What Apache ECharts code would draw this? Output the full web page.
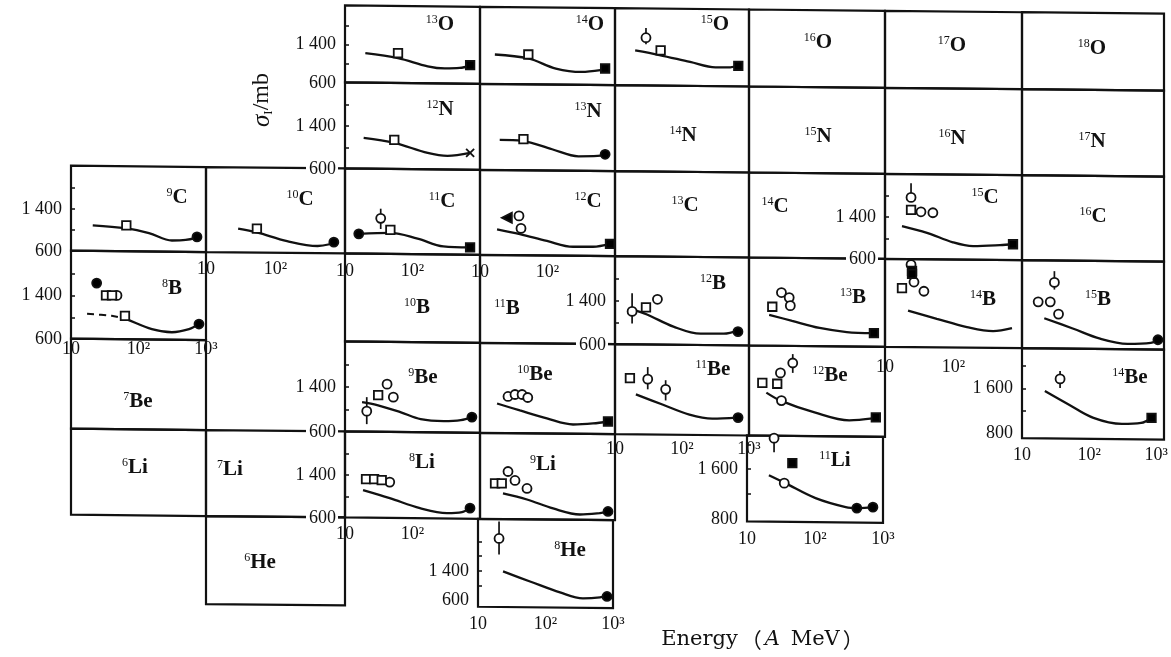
<!DOCTYPE html>
<html><head><meta charset="utf-8">
<script src="https://cdn.jsdelivr.net/npm/echarts@6.0.0/dist/echarts.min.js"></script>
<style>html,body{margin:0;padding:0;background:#fff}#c{width:1171px;height:657px}</style>
</head><body><div id="c"></div>
<script>
// ---------- data : energy (A MeV), sigma_I (mb) ----------
const xTickText = {1: '10', 2: '10²', 3: '10³'};

const o13Curve = [[20,1223],[61,1120],[168,950],[300,905],[500,915],[714,965]];
const o13OpenSq = [[61,1223]];
const o13FillSq = [[714,974]];

const o14Curve = [[16.6,1223],[52,1140],[133,930],[319,860],[625,900],[714,932]];
const o14OpenSq = [[52,1223]];
const o14FillSq = [[714,932]];

const o15Curve = [[20,1336],[46,1240],[132,1096],[316,984],[525,984],[692,1032]];
const o15OpenCircle = [[29,1600]];
const o15Err = [[29,1464,1800]];
const o15OpenSq = [[48,1336]];
const o15FillSq = [[692,1016]];

const n12Curve = [[18.9,1183],[53.7,1089],[168,901],[330,845],[714,901]];
const n12OpenSq = [[53.7,1146]];
const n12Cross = [[714,901]];

const n13Curve = [[19.6,1170],[42.5,1150],[117,995],[288,864],[550,870],[714,901]];
const n13OpenSq = [[44,1183]];
const n13FillCircle = [[714,901]];

const c9Curve = [[21,1091],[65,1036],[143,945],[313,805],[500,815],[711,855]];
const c9OpenSq = [[66,1090]];
const c9FillCircle = [[735,873]];

const c10Curve = [[29,1055],[54,982],[147,818],[404,727],[600,760],[691,800]];
const c10OpenSq = [[54,1055]];
const c10FillCircle = [[691,800]];

const c11Curve = [[16,982],[47,1000],[119,891],[286,745],[713,727]];
const c11FillCircle = [[16,982]];
const c11OpenCircle = [[33.8,1273]];
const c11Err = [[33.8,1073,1455]];
const c11OpenSq = [[47,1055]];
const c11FillSq = [[713,727]];

const c12Curve = [[17.9,1091],[39,1000],[98,873],[239,764],[472,764],[843,818]];
const c12FillTri = [[25,1309]];
const c12OpenCircle = [[37.8,1345],[40.5,1109]];
const c12FillSq = [[843,818]];

const c15Curve = [[17.7,1229],[41,1103],[98,924],[193,852],[477,870],[739,888]];
const c15OpenCircle = [[24,1769],[33.5,1499],[50,1481]];
const c15Err = [[24,1769,2038]];
const c15OpenSq = [[24,1535]];
const c15FillSq = [[739,888]];

const b8CurveDashed = [[17.3,1065],[40,1030],[57,991]];
const b8Curve = [[57,991],[65,972],[158,786],[313,730],[560,786],[787,879]];
const b8FillCircle = [[24,1623],[787,879]];
const b8OpenSq = [[33,1400],[40.5,1400],[63,1028]];
const b8OpenCircle = [[48,1400]];

const b12Curve = [[18,1244],[30,1152],[74.5,931],[190,802],[421,802],[684,857]];
const b12OpenCircle = [[18,1207],[43,1428]];
const b12Err = [[18,986,1538]];
const b12OpenSq = [[29,1280]];
const b12FillCircle = [[684,839]];

const b13Curve = [[19.8,1170],[43,1060],[109,931],[274,857],[664,839]];
const b13OpenSq = [[22,1317]];
const b13OpenCircle = [[30,1575],[39,1483],[40.5,1336]];
const b13FillSq = [[687,839]];

const b14Curve = [[21.7,1270],[57,1121],[157,972],[378,898],[714,953]];
const b14OpenCircle = [[24,2107],[26.5,1791],[37,1623]];
const b14FillSq = [[24.8,1995],[24.8,1940]];
const b14OpenSq = [[17.7,1679]];

const b15Curve = [[20.6,1158],[51.8,972],[126,786],[306,693],[652,712],[906,786]];
const b15OpenCircle = [[28.6,1809],[16.9,1456],[25,1456],[32.7,1233]];
const b15Err = [[28.6,1679,2014]];
const b15FillCircle = [[821,767]];

const be9Curve = [[17.9,1133],[30,1080],[66,956],[132,831],[290,796],[520,813],[759,867]];
const be9OpenCircle = [[21,973],[42,1453],[52,1222]];
const be9Err = [[21,742,1222]];
const be9OpenSq = [[31,1258]];
const be9FillCircle = [[759,867]];

const be10Curve = [[17.9,1133],[39,1009],[98,867],[239,760],[472,778],[787,813]];
const be10OpenCircle = [[26,1258],[33,1293],[42,1293],[51,1240]];
const be10FillSq = [[787,813]];

const be11Curve = [[20.5,1319],[51,1139],[129,960],[283,888],[664,906]];
const be11OpenSq = [[16.7,1607]];
const be11OpenCircle = [[30.8,1589],[57,1409]];
const be11Err = [[30.8,1409,1804],[57,1211,1571]];
const be11FillCircle = [[687,906]];

const be12Curve = [[18,1374],[29,1233],[92,1022],[298,881],[660,916]];
const be12OpenSq = [[15.7,1549],[26,1532]];
const be12OpenCircle = [[29,1725],[30,1233],[44,1901]];
const be12Err = [[44,1725,2059]];
const be12FillSq = [[733,934]];

const be14Curve = [[21.9,1553],[48,1322],[116,1073],[308,967],[593,984],[849,1073]];
const be14OpenCircle = [[36.9,1767]];
const be14Err = [[36.9,1607,1909]];
const be14FillSq = [[849,1073]];

const li8Curve = [[18.5,1121],[46,972],[129,786],[324,693],[541,712],[711,786]];
const li8OpenSq = [[20.5,1326],[27,1326],[35,1307]];
const li8OpenCircle = [[46,1270]];
const li8FillCircle = [[711,786]];

const li9Curve = [[21.9,1084],[49.7,972],[121,805],[303,693],[600,720],[843,749]];
const li9OpenSq = [[16.7,1270],[21,1270]];
const li9OpenCircle = [[26,1493],[33,1326],[49.7,1177]];
const li9FillCircle = [[787,749]];

const li11Curve = [[21,1504],[36.5,1376],[102,1135],[283,991],[427,975],[711,991]];
const li11OpenCircle = [[25,2098],[35.3,1376]];
const li11Err = [[25,1873,2098]];
const li11FillSq = [[46.4,1697]];
const li11FillCircle = [[412,975],[711,991]];

const he8Curve = [[23.5,1382],[59,1109],[164,809],[359,645],[642,673],[843,727]];
const he8OpenCircle = [[20.5,2282]];
const he8Err = [[20.5,1845,2745]];
const he8FillCircle = [[815,700]];

// nuclide names: [mass, element]
const nuclideNames = [
 ['13','O'],['14','O'],['15','O'],['16','O'],['17','O'],['18','O'],
 ['12','N'],['13','N'],['14','N'],['15','N'],['16','N'],['17','N'],
 ['9','C'],['10','C'],['11','C'],['12','C'],['13','C'],['14','C'],['15','C'],['16','C'],
 ['8','B'],['10','B'],['11','B'],['12','B'],['13','B'],['14','B'],['15','B'],
 ['7','Be'],['9','Be'],['10','Be'],['11','Be'],['12','Be'],['14','Be'],
 ['6','Li'],['7','Li'],['8','Li'],['9','Li'],['11','Li'],
 ['6','He'],['8','He']
];

// ---------- layout ----------
const F = "'Liberation Serif','DejaVu Serif',serif";
const C = [71, 206, 345, 480, 615, 749, 885, 1022, 1164];
const R = [8, 85, 171, 256, 344, 434, 520, 608];
const TILT = 0.01;
const namePos = [
 [440,25],[590,25],[715,25],[818,43],[952,46],[1092,49],
 [440,110],[588,112],[683,136],[818,137],[952,139],[1092,142],
 [177,198],[300,200],[442,202],[588,202],[685,206],[775,207],[985,198],[1093,217],
 [172,289],[417,308],[507,309],[713,284],[853,298],[983,300],[1098,300],
 [138,402],[423,378],[535,375],[713,370],[830,376],[1130,378],
 [135,468],[230,470],[422,463],[543,465],[835,461],
 [260,563],[570,551]
];
const emptyCells = [
 [5,0,6,1],[6,0,7,1],[7,0,8,1],
 [4,1,5,2],[5,1,6,2],[6,1,7,2],[7,1,8,2],
 [4,2,5,3],[5,2,6,3],[7,2,8,3],
 [2,3,3,4],[3,3,4,4],
 [0,4,1,5],
 [0,5,1,6],[1,5,2,6],
 [1,6,2,7]
];
const panels = [
 {c:[2,0,3,1], y:[600,2200], yl:[600,1400], curve:o13Curve, openSq:o13OpenSq, fillSq:o13FillSq},
 {c:[3,0,4,1], y:[600,2200], curve:o14Curve, openSq:o14OpenSq, fillSq:o14FillSq},
 {c:[4,0,5,1], y:[600,2200], curve:o15Curve, err:o15Err, openCircle:o15OpenCircle, openSq:o15OpenSq, fillSq:o15FillSq},
 {c:[2,1,3,2], y:[600,2200], yl:[600,1400], curve:n12Curve, openSq:n12OpenSq, cross:n12Cross},
 {c:[3,1,4,2], y:[600,2200], curve:n13Curve, openSq:n13OpenSq, fillCircle:n13FillCircle},
 {c:[0,2,1,3], y:[600,2200], yl:[600,1400], curve:c9Curve, openSq:c9OpenSq, fillCircle:c9FillCircle},
 {c:[1,2,2,3], y:[600,2200], xl:[1,2], xm:8, curve:c10Curve, openSq:c10OpenSq, fillCircle:c10FillCircle},
 {c:[2,2,3,3], y:[600,2200], xl:[1,2], xm:8, curve:c11Curve, err:c11Err, openCircle:c11OpenCircle, openSq:c11OpenSq, fillCircle:c11FillCircle, fillSq:c11FillSq},
 {c:[3,2,4,3], y:[600,2200], xl:[1,2], xm:8, curve:c12Curve, openCircle:c12OpenCircle, fillTri:c12FillTri, fillSq:c12FillSq},
 {c:[6,2,7,3], y:[600,2200], yl:[600,1400], curve:c15Curve, err:c15Err, openCircle:c15OpenCircle, openSq:c15OpenSq, fillSq:c15FillSq},
 {c:[0,3,1,4], y:[600,2200], yl:[600,1400], xl:[1,2,3], xm:1, dashed:b8CurveDashed, curve:b8Curve, openSq:b8OpenSq, openCircle:b8OpenCircle, fillCircle:b8FillCircle},
 {c:[4,3,5,4], y:[600,2200], yl:[600,1400], curve:b12Curve, err:b12Err, openCircle:b12OpenCircle, openSq:b12OpenSq, fillCircle:b12FillCircle},
 {c:[5,3,6,4], y:[600,2200], curve:b13Curve, openSq:b13OpenSq, openCircle:b13OpenCircle, fillSq:b13FillSq},
 {c:[6,3,7,4], y:[600,2200], xl:[1,2], xm:11, curve:b14Curve, openSq:b14OpenSq, openCircle:b14OpenCircle, fillSq:b14FillSq},
 {c:[7,3,8,4], y:[600,2200], curve:b15Curve, err:b15Err, openCircle:b15OpenCircle, fillCircle:b15FillCircle},
 {c:[2,4,3,5], y:[600,2200], yl:[600,1400], curve:be9Curve, err:be9Err, openCircle:be9OpenCircle, openSq:be9OpenSq, fillCircle:be9FillCircle},
 {c:[3,4,4,5], y:[600,2200], curve:be10Curve, openCircle:be10OpenCircle, fillSq:be10FillSq},
 {c:[4,4,5,5], y:[600,2200], xl:[1,2,3], xm:5, curve:be11Curve, err:be11Err, openSq:be11OpenSq, openCircle:be11OpenCircle, fillCircle:be11FillCircle},
 {c:[5,4,6,5], y:[600,2200], curve:be12Curve, err:be12Err, openSq:be12OpenSq, openCircle:be12OpenCircle, fillSq:be12FillSq},
 {c:[7,4,8,5], y:[700,2300], yl:[800,1600], yt:[1200,1600,2000], xl:[1,2,3], xm:7, curve:be14Curve, err:be14Err, openCircle:be14OpenCircle, fillSq:be14FillSq},
 {c:[2,5,3,6], y:[600,2200], yl:[600,1400], xl:[1,2], xm:7, curve:li8Curve, openSq:li8OpenSq, openCircle:li8OpenCircle, fillCircle:li8FillCircle},
 {c:[3,5,4,6], y:[600,2200], curve:li9Curve, openSq:li9OpenSq, openCircle:li9OpenCircle, fillCircle:li9FillCircle},
 {c:[5,5,6,6,-2], y:[750,2130], yl:[800,1600], yt:[1200,1600,2000], xl:[1,2,3], xm:8, curve:li11Curve, err:li11Err, openCircle:li11OpenCircle, fillSq:li11FillSq, fillCircle:li11FillCircle},
 {c:[3,6,4,7,-2], y:[400,2800], yl:[600,1400], yt:[1000,1400,1800,2200], xl:[1,2,3], xm:8, curve:he8Curve, err:he8Err, openCircle:he8OpenCircle, fillCircle:he8FillCircle}
];

const dy = x => TILT * (x - 600);
function box(c) {
  const [c0, r0, c1, r1, sh = 0] = c;
  const x0 = C[c0] + sh, x1 = C[c1] + sh;
  const d = dy((x0 + x1) / 2);
  return {x: x0, y: R[r0] + d, w: x1 - x0, h: R[r1] - R[r0]};
}
function outline(c) {
  const [c0, r0, c1, r1, sh = 0] = c;
  const x0 = C[c0] + sh, x1 = C[c1] + sh;
  return [[x0, R[r0] + dy(x0)], [x1, R[r0] + dy(x1)], [x1, R[r1] + dy(x1)], [x0, R[r1] + dy(x0)]];
}
function fmtY(v) {
  v = Math.round(v);
  return v >= 1000 ? Math.floor(v / 1000) + ' ' + String(v % 1000).padStart(3, '0') : String(v);
}
const markerKinds = {
  openCircle: {symbol: 'circle', size: 9, fill: '#fff'},
  openSq: {symbol: 'rect', size: 8.5, fill: '#fff'},
  fillCircle: {symbol: 'circle', size: 9, fill: '#000'},
  fillSq: {symbol: 'rect', size: 8.5, fill: '#000'},
  fillTri: {symbol: 'triangle', size: 10, fill: '#000', rotate: 90},
  cross: {symbol: 'path://M0 0L10 10M10 0L0 10', size: 8, fill: 'none'}
};

const grids = [], xAxes = [], yAxes = [], series = [], graphics = [];
const allCells = emptyCells.concat(panels.map(p => p.c));
allCells.forEach(c => {
  graphics.push({type: 'polygon', z: 0, shape: {points: outline(c)},
    style: {fill: 'none', stroke: '#111', lineWidth: 2.2}});
});
nuclideNames.forEach((n, i) => {
  graphics.push({type: 'text', z: 20, x: namePos[i][0], y: namePos[i][1], style: {
    text: '{m|' + n[0] + '}{e|' + n[1] + '}', align: 'center', verticalAlign: 'middle',
    rich: {m: {fontSize: 12, fontFamily: F, fill: '#111', verticalAlign: 'top', lineHeight: 12},
           e: {fontSize: 21, fontFamily: F, fontWeight: 'bold', fill: '#111', lineHeight: 22}}}});
});
graphics.push({type: 'text', z: 20, x: 262, y: 100, rotation: Math.PI / 2, style: {
  text: '{s|σ}{i|I}{n|/mb}', align: 'center', verticalAlign: 'middle',
  rich: {s: {fontSize: 25, fontFamily: F, fontStyle: 'italic', fill: '#111', lineHeight: 26},
         i: {fontSize: 13, fontFamily: F, fill: '#111', verticalAlign: 'bottom', lineHeight: 13},
         n: {fontSize: 24, fontFamily: F, fill: '#111', lineHeight: 26}}}});
const EF = "'DejaVu Serif','Liberation Serif',serif";
graphics.push({type: 'text', z: 20, x: 764, y: 640, style: {
  text: '{n|Energy}{p|（}{a|A}{n| MeV}{p|）}', align: 'center', verticalAlign: 'middle',
  rich: {n: {fontSize: 21, fontFamily: EF, fill: '#111'},
         p: {fontSize: 21, fontFamily: "'Noto Sans CJK SC'", fill: '#111', padding: [0, 3, 0, 3]},
         a: {fontSize: 21, fontFamily: EF, fontStyle: 'italic', fill: '#111', padding: [0, 4, 0, 0]}}}});

panels.forEach((p, i) => {
  const b = box(p.c);
  grids.push({left: b.x, top: b.y, width: b.w, height: b.h, show: false, containLabel: false});
  const xl = p.xl || [];
  xAxes.push({gridIndex: i, type: 'log', logBase: 10, min: 10, max: 1000, z: 10,
    axisLine: {show: false}, axisTick: {show: false}, splitLine: {show: false},
    axisLabel: {show: xl.length > 0, showMinLabel: true, showMaxLabel: true, hideOverlap: false,
      margin: p.xm || 5, fontFamily: F, fontSize: 18, color: '#111',
      formatter: v => { const k = Math.round(Math.log10(v)); return xl.includes(k) ? xTickText[k] : ''; }}});
  const yl = p.yl || [];
  yAxes.push({gridIndex: i, type: 'value', min: p.y[0], max: p.y[1], z: 10,
    axisLine: {show: false}, splitLine: {show: false},
    axisTick: {show: yl.length > 0, inside: true, length: 4, customValues: p.yt || [1000, 1400, 1800],
      lineStyle: {color: '#111', width: 1.5}},
    axisLabel: {show: yl.length > 0, customValues: yl, formatter: fmtY, margin: 7,
      fontFamily: F, fontSize: 18, color: '#111', backgroundColor: '#fff', padding: [0, 2, 0, 3]}});
  if (p.dashed) series.push({type: 'line', xAxisIndex: i, yAxisIndex: i, data: p.dashed, smooth: 0.3,
    showSymbol: false, silent: true, lineStyle: {color: '#111', width: 2, type: [7, 5]}});
  series.push({type: 'line', xAxisIndex: i, yAxisIndex: i, data: p.curve, smooth: 0.35,
    showSymbol: false, silent: true, lineStyle: {color: '#111', width: 2.3}});
  if (p.err) series.push({type: 'custom', xAxisIndex: i, yAxisIndex: i, data: p.err, z: 3,
    encode: {x: 0, y: [1, 2]},
    renderItem: (params, api) => {
      const a = api.coord([api.value(0), api.value(1)]);
      const b2 = api.coord([api.value(0), api.value(2)]);
      return {type: 'line', shape: {x1: a[0], y1: a[1], x2: b2[0], y2: b2[1]},
        style: {stroke: '#111', lineWidth: 1.7}};
    }});
  Object.keys(markerKinds).forEach(k => {
    if (!p[k]) return;
    const m = markerKinds[k];
    series.push({type: 'scatter', xAxisIndex: i, yAxisIndex: i, data: p[k], z: 4,
      symbol: m.symbol, symbolSize: m.size, symbolRotate: m.rotate || 0, silent: true,
      itemStyle: {color: m.fill, borderColor: '#111', borderWidth: 1.8, opacity: 1}});
  });
});

const chart = echarts.init(document.getElementById('c'), null, {renderer: 'canvas'});
chart.setOption({
  animation: false, backgroundColor: '#fff',
  grid: grids, xAxis: xAxes, yAxis: yAxes, series: series,
  graphic: {elements: graphics}
});
</script></body></html>
